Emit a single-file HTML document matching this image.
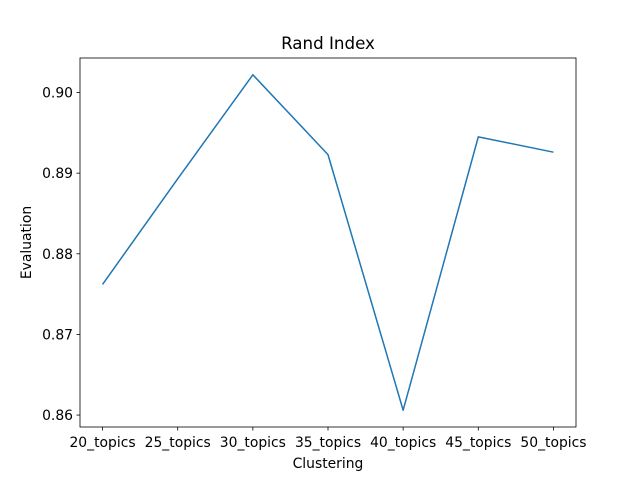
<!DOCTYPE html>
<html><head><meta charset="utf-8"><style>
body{margin:0;background:#fff}
svg{display:block;font-family:"DejaVu Sans","Liberation Sans",sans-serif}
</style></head><body>
<svg id="chart" width="640" height="480" viewBox="0 0 640 480">
<rect x="0" y="0" width="640" height="480" fill="#fff"/>
<text x="328" y="49" text-anchor="middle" font-size="16.7">Rand Index</text>
<path id="line" fill="none" stroke="#1f77b4" stroke-width="1.5" stroke-linejoin="round"/>
<rect x="80" y="58" width="496" height="369" fill="none" stroke="#000" stroke-width="0.8"/>
<g id="xt"></g><g id="yt"></g>
<text x="328" y="468" text-anchor="middle" font-size="13.9">Clustering</text>
<text transform="translate(31,242.5) rotate(-90)" text-anchor="middle" font-size="13.9">Evaluation</text>
</svg>
<script>
const categories=["20_topics","25_topics","30_topics","35_topics","40_topics","45_topics","50_topics"];
const values=[0.8762,0.8893,0.9022,0.8923,0.8606,0.8945,0.8926];
const yTicks=[0.86,0.87,0.88,0.89,0.90];
const yTickLabels=["0.86","0.87","0.88","0.89","0.90"];
const NS="http://www.w3.org/2000/svg";
const L=80,R=576,T=58,B=427;
const n=categories.length;
const pad=(R-L)/(n-1+2*0.05*(n-1))*0.05*(n-1);
const xs=i=>L+pad+i*(R-L-2*pad)/(n-1);
const ymin=Math.min(...values),ymax=Math.max(...values),m=(ymax-ymin)*0.05;
const y0=ymin-m,y1=ymax+m;
const ys=v=>B-(v-y0)/(y1-y0)*(B-T);
function mk(t,a,p){const e=document.createElementNS(NS,t);for(const k in a)e.setAttribute(k,a[k]);p.appendChild(e);return e;}
const xt=document.getElementById('xt'),yt=document.getElementById('yt');
categories.forEach((c,i)=>{
 const x=xs(i);
 const tk=mk('line',{x1:x,x2:x,y1:B,y2:B+3.5,stroke:'#000','stroke-width':0.8},xt);
 
 
 const t=mk('text',{x:x,y:B+20,'text-anchor':'middle','font-size':13.9},xt);
 
 
 t.textContent=c;
});
yTicks.forEach((v,i)=>{
 const y=ys(v);
 const tk=mk('line',{x1:L-3.5,x2:L,y1:y,y2:y,stroke:'#000','stroke-width':0.8},yt);
 
 
 const t=mk('text',{x:L-7,y:y+5,'text-anchor':'end','font-size':13.9},yt);
 
 
 t.textContent=yTickLabels[i];
});
document.getElementById('line').setAttribute('d',values.map((v,i)=>(i?'L':'M')+xs(i)+','+ys(v)).join(''));
</script>
</body></html>
